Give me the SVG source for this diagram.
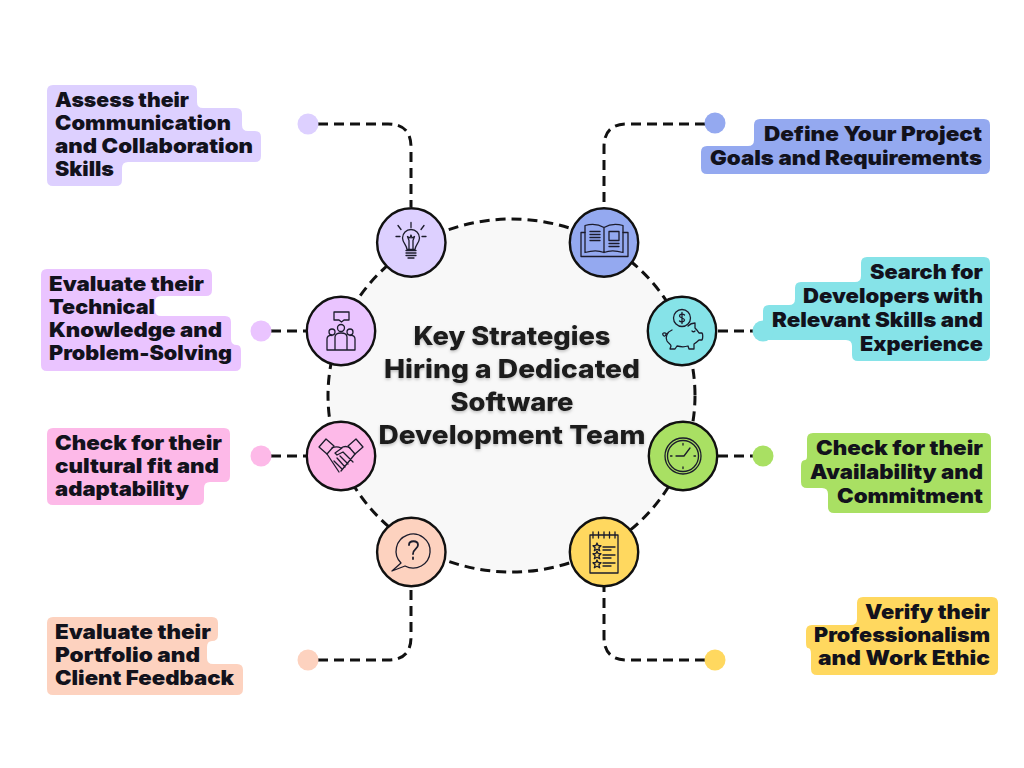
<svg xmlns="http://www.w3.org/2000/svg" width="1024" height="768" viewBox="0 0 1024 768">
<style>
text{font-family:"Inter","Liberation Sans",sans-serif;font-weight:900;fill:#12121c}
.l{font-size:20px;transform:translateY(-.6px)}
.t{font-size:25.500px;font-weight:800;text-anchor:middle;fill:#1a1a1a;filter:url(#sh)}
.c{fill:none;stroke:#111;stroke-width:3;stroke-dasharray:10 6}
.n{stroke:#111;stroke-width:2.400}
.i{fill:none;stroke:#1c1c2c;stroke-width:1.300;stroke-linecap:round;stroke-linejoin:round}
</style>
<defs><filter id="sh" x="-10%" y="-20%" width="120%" height="150%"><feDropShadow dx="0" dy="1.500" stdDeviation="1.500" flood-color="#000" flood-opacity=".25"/></filter>
<path id="st" d="M0-4 1.200-1.300H4L1.900.8 2.700 3.800 0 2.300-2.700 3.800-1.900.8-4-1.300H-1.200Z"/></defs>
<rect width="1024" height="768" fill="#fff"/>
<g id="hub"><ellipse cx="511.500" cy="395.500" rx="183.500" ry="176.500" fill="#f8f8f8"/>
<text class="t" x="512" y="345" textLength="197" lengthAdjust="spacingAndGlyphs">Key Strategies</text>
<text class="t" x="512" y="378" textLength="256" lengthAdjust="spacingAndGlyphs">Hiring a Dedicated</text>
<text class="t" x="512" y="411" textLength="123" lengthAdjust="spacingAndGlyphs">Software</text>
<text class="t" x="512" y="444" textLength="267" lengthAdjust="spacingAndGlyphs">Development Team</text></g>
<g id="connectors">
<ellipse class="c" cx="511.500" cy="395.500" rx="183.500" ry="176.500"/>
<path class="c" d="M318 124H388Q411 124 411 147V207"/>
<path class="c" d="M705 124H627Q604 124 604 147V207"/>
<path class="c" d="M271 331H306"/>
<path class="c" d="M718 331H753"/>
<path class="c" d="M271 456H306"/>
<path class="c" d="M718 456H753"/>
<path class="c" d="M318 660H388Q411 660 411 637V587"/>
<path class="c" d="M705 660H627Q604 660 604 637V587"/>
</g>
<g id="n1"><path fill="#ddd0ff" d="M53 85H191Q197 85 197 91V102Q197 108 203 108H236Q242 108 242 114V125Q242 131 248 131H255Q261 131 261 137V156Q261 162 255 162H128Q122 162 122 168V180Q122 186 116 186H53Q47 186 47 180V91Q47 85 53 85Z"/>
<circle cx="308" cy="124" r="10.500" fill="#ddd0ff"/>
<circle class="n" cx="411.300" cy="242.500" r="34.200" fill="#ddd0ff"/>
<g class="i" transform="translate(411 242.500)"><path d="M-4 7C-4 3-8.500 0-8.500-4.500A8.500 8.500 0 0 1 8.500-4.500C8.500 0 4 3 4 7Z"/><path d="M-2 7V-2L-3.500-6-1-4.500 0-7.500 1-4.500 3.500-6 2-2V7"/><path d="M-5 8H5M-5 10.500H5M-5 13H5M-3 15.500H3M0-15V-20M-10-13-13-17M10-13 13-17M-11-6H-15M11-6H15"/></g>
<text class="l" x="55" y="108" textLength="134" lengthAdjust="spacingAndGlyphs">Assess their</text>
<text class="l" x="55" y="131" textLength="176" lengthAdjust="spacingAndGlyphs">Communication</text>
<text class="l" x="55" y="154" textLength="198" lengthAdjust="spacingAndGlyphs">and Collaboration</text>
<text class="l" x="55" y="177" textLength="59" lengthAdjust="spacingAndGlyphs">Skills</text></g>
<g id="n2"><path fill="#94a9f0" d="M760 119H984Q990 119 990 125V168Q990 174 984 174H707Q701 174 701 168V152Q701 146 707 146H748Q754 146 754 140V125Q754 119 760 119Z"/>
<circle cx="715" cy="123" r="10.500" fill="#94a9f0"/>
<circle class="n" cx="604" cy="242.500" r="34.200" fill="#94a9f0"/>
<g class="i" transform="translate(604 242.500)"><path d="M-19-10H-23V14H24V-10H19"/><path d="M-19-17C-12-19-5-18 0-15V10C-5 8-12 8-19 10ZM0-15C5-18 12-19 19-17V10C12 8 5 8 0 10Z"/><path d="M-14-11H-4M-14-8H-4M-14-5H-4M-14-2H-4"/><path d="M5-11H15V-2H5ZM5 1H15M5 4H15"/></g>
<text class="l" x="764" y="142" textLength="218" lengthAdjust="spacingAndGlyphs">Define Your Project</text>
<text class="l" x="710" y="166" textLength="272" lengthAdjust="spacingAndGlyphs">Goals and Requirements</text></g>
<g id="n3"><path fill="#86e3e8" d="M867 257H984Q990 257 990 263V355Q990 361 984 361H858Q852 361 852 355V346Q852 340 846 340H769Q763 340 763 334V311Q763 305 769 305H789Q795 305 795 299V288Q795 282 801 282H855Q861 282 861 276V263Q861 257 867 257Z"/>
<circle cx="763" cy="331" r="10.500" fill="#86e3e8"/>
<circle class="n" cx="682" cy="331" r="34.200" fill="#86e3e8"/>
<g class="i" transform="translate(682 331)"><circle cx="0" cy="-13" r="8.500"/><path d="M2.500-16C1-17.500-2.500-17-2.500-15S2.500-13 2.500-11-1-8.500-2.500-10M0-18.500V-7.500"/><path d="M-10-1C-15 1-17 6-15 10-13 13-11 13-11 15L-12 18H-7L-5 15C-1 16 3 16 6 15L7 18H12L12 13C15 11 16 10 17 9H20C21 7 21 3 20 2H17C16 0 14-2 13-3V-8C10-8 8-7 6-5"/><path d="M-15 3C-18 1-20 2-19 4S-16 5-16 3M10 0C11 1 12 1 13 0"/></g>
<text class="l" x="870" y="280" textLength="113" lengthAdjust="spacingAndGlyphs">Search for</text>
<text class="l" x="803" y="304" textLength="180" lengthAdjust="spacingAndGlyphs">Developers with</text>
<text class="l" x="772" y="328" textLength="211" lengthAdjust="spacingAndGlyphs">Relevant Skills and</text>
<text class="l" x="860" y="352" textLength="123" lengthAdjust="spacingAndGlyphs">Experience</text></g>
<g id="n4"><path fill="#eac4ff" d="M47 269H206Q212 269 212 275V290Q212 296 206 296H161Q155 296 155 302V310Q155 316 161 316H225Q231 316 231 322V339Q231 345 237 345Q241 345 241 351V365Q241 371 235 371H47Q41 371 41 365V275Q41 269 47 269Z"/>
<circle cx="261" cy="331" r="10.500" fill="#eac4ff"/>
<circle class="n" cx="341" cy="331" r="34.200" fill="#eac4ff"/>
<g class="i" transform="translate(341 331)"><path d="M-7-19H8V-11H3L.5-9-2-11H-7Z"/><circle cx="0" cy="-3" r="3.500"/><circle cx="-9" cy="1" r="3"/><circle cx="9" cy="1" r="3"/><path d="M-6 19V6Q-6 2 0 2T6 6V19M-14 19V8Q-14 4-9 4.500M14 19V8Q14 4 9 4.500M-14 19H14"/></g>
<text class="l" x="49" y="292" textLength="155" lengthAdjust="spacingAndGlyphs">Evaluate their</text>
<text class="l" x="49" y="315" textLength="106" lengthAdjust="spacingAndGlyphs">Technical</text>
<text class="l" x="49" y="338" textLength="173" lengthAdjust="spacingAndGlyphs">Knowledge and</text>
<text class="l" x="49" y="361" textLength="183" lengthAdjust="spacingAndGlyphs">Problem-Solving</text></g>
<g id="n5"><path fill="#a9e063" d="M813 433H985Q991 433 991 439V507Q991 513 985 513H834Q828 513 828 507V494Q828 488 822 488H807Q801 488 801 482V466Q801 460 805 460Q807 460 807 456V439Q807 433 813 433Z"/>
<circle cx="763" cy="456" r="10.500" fill="#a9e063"/>
<circle class="n" cx="683" cy="456" r="34.200" fill="#a9e063"/>
<g class="i" transform="translate(683 456)"><circle r="18"/><circle r="15.500"/><path d="M-7 0H1L7-8M0-12.500V-11M0 11V12.500M-12.500 0H-11M11 0H12.500"/></g>
<text class="l" x="816" y="456" textLength="167" lengthAdjust="spacingAndGlyphs">Check for their</text>
<text class="l" x="810" y="480" textLength="173" lengthAdjust="spacingAndGlyphs">Availability and</text>
<text class="l" x="837" y="504" textLength="146" lengthAdjust="spacingAndGlyphs">Commitment</text></g>
<g id="n6"><path fill="#fdb9e8" d="M53 428H224Q230 428 230 434V476Q230 482 224 482H210Q204 482 204 488V499Q204 505 198 505H53Q47 505 47 499V434Q47 428 53 428Z"/>
<circle cx="261" cy="456" r="10.500" fill="#fdb9e8"/>
<circle class="n" cx="341" cy="456" r="34.200" fill="#fdb9e8"/>
<g class="i" transform="translate(341 456)"><path d="M-22-9-15-17-7-10-14-2ZM22-9 15-17 7-10 14-2Z"/><path d="M-9-8C-5-10-2-9 0-8 3-10 6-10 9-8M-14-2-2 16M14-2C10 3 5 9 0 15M1-8-6-3-4-1 2-4 12 6M-7 5 1 13M-4 2 4 11M-1 0 7 8"/></g>
<text class="l" x="55" y="451" textLength="167" lengthAdjust="spacingAndGlyphs">Check for their</text>
<text class="l" x="55" y="474" textLength="164" lengthAdjust="spacingAndGlyphs">cultural fit and</text>
<text class="l" x="55" y="497" textLength="134" lengthAdjust="spacingAndGlyphs">adaptability</text></g>
<g id="n7"><path fill="#fdd2bf" d="M53 617H212Q218 617 218 623V635Q218 641 212 641Q207 641 207 647V658Q207 664 213 664H237Q243 664 243 670V689Q243 695 237 695H53Q47 695 47 689V623Q47 617 53 617Z"/>
<circle cx="308" cy="660" r="10.500" fill="#fdd2bf"/>
<circle class="n" cx="411.300" cy="552" r="34.200" fill="#fdd2bf"/>
<g class="i" transform="translate(411 552)"><path d="M-10 11A17 17 0 1 1-6 14L-19 19Z"/><path d="M-2-7C-2-12 7-12 7-7 7-3 2-3 2 2M2 5.500V7" stroke-width="1.800"/></g>
<text class="l" x="55" y="640" textLength="156" lengthAdjust="spacingAndGlyphs">Evaluate their</text>
<text class="l" x="55" y="663" textLength="145" lengthAdjust="spacingAndGlyphs">Portfolio and</text>
<text class="l" x="55" y="686" textLength="179" lengthAdjust="spacingAndGlyphs">Client Feedback</text></g>
<g id="n8"><path fill="#ffd85f" d="M863 597H992Q998 597 998 603V669Q998 675 992 675H817Q811 675 811 669V654Q811 648 808 648Q806 648 806 642V631Q806 625 812 625H851Q857 625 857 619V603Q857 597 863 597Z"/>
<circle cx="715" cy="660" r="10.500" fill="#ffd85f"/>
<circle class="n" cx="604" cy="552" r="34.200" fill="#ffd85f"/>
<g class="i" transform="translate(604 552)"><rect x="-14" y="-17" width="28" height="38"/><path d="M-11-20V-14M-5.500-20V-14M0-20V-14M5.500-20V-14M11-20V-14M-1-5H11M-1-2H7M-1 3H11M-1 6H7M-1 11H11M-1 14H7"/><use href="#st" x="-7" y="-5"/><use href="#st" x="-7" y="3"/><use href="#st" x="-7" y="12"/></g>
<text class="l" x="865" y="620" textLength="125" lengthAdjust="spacingAndGlyphs">Verify their</text>
<text class="l" x="814" y="643" textLength="176" lengthAdjust="spacingAndGlyphs">Professionalism</text>
<text class="l" x="818" y="666" textLength="172" lengthAdjust="spacingAndGlyphs">and Work Ethic</text></g>
</svg>
